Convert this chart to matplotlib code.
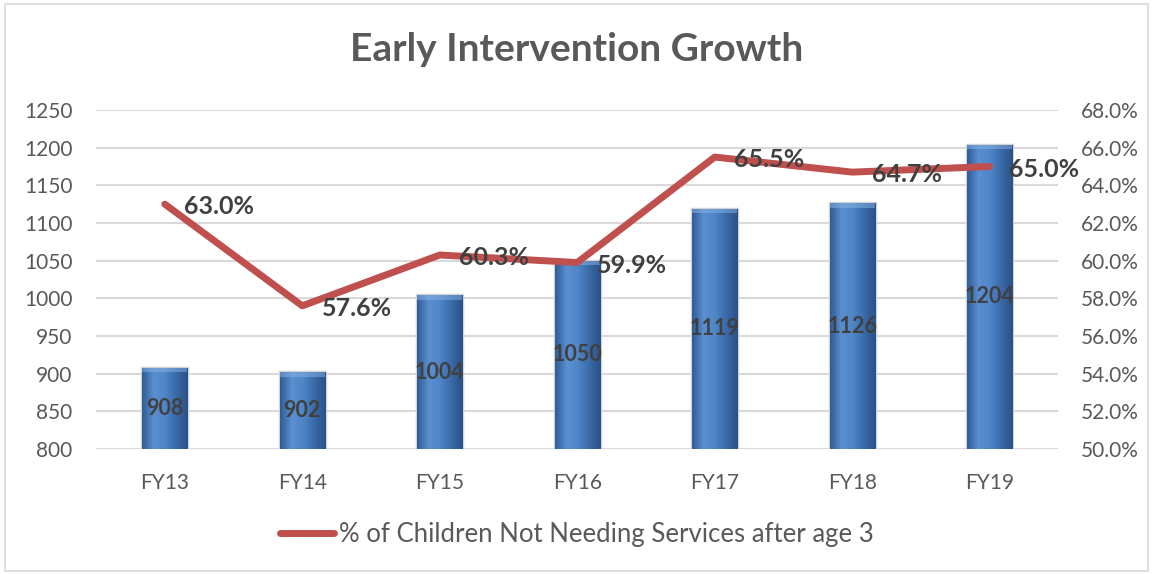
import numpy as np
import matplotlib.pyplot as plt
from matplotlib.patches import Rectangle
from matplotlib.colors import LinearSegmentedColormap

plt.rcParams['font.family'] = ['Lato', 'DejaVu Sans']

years = ["FY13", "FY14", "FY15", "FY16", "FY17", "FY18", "FY19"]
children = [908, 902, 1004, 1050, 1119, 1126, 1204]
pct_not_needing = [63.0, 57.6, 60.3, 59.9, 65.5, 64.7, 65.0]
left_ticks = [800, 850, 900, 950, 1000, 1050, 1100, 1150, 1200, 1250]
right_ticks = [50, 52, 54, 56, 58, 60, 62, 64, 66, 68]

txt = '#595959'
fig = plt.figure(figsize=(11.53, 5.74), dpi=100)
ax = fig.add_axes([0.0833, 0.2178, 0.8347, 0.5906])
x = np.arange(len(years))

bars = ax.bar(x, np.array(children) - 800, bottom=800, width=0.33,
              color='#4a7ebb', edgecolor='#d4d4d4', linewidth=2.5, zorder=2)
# fake the shaded 3D look of the excel bars
blue = LinearSegmentedColormap.from_list('b', ['#2f5d96', '#5b8fd0', '#4f86c8', '#3a6aa8', '#2a5288'])
grad = np.linspace(0, 1, 64).reshape(1, -1)
for b in bars:
    x0, y0 = b.get_x(), b.get_y()
    im = ax.imshow(grad, cmap=blue, aspect='auto', zorder=2.5,
                   extent=[x0, x0 + b.get_width(), y0, y0 + b.get_height()])
    im.set_clip_path(b)
    ax.add_patch(Rectangle((x0, y0 + b.get_height() - 6), b.get_width(), 6,
                           color='#8ab4e6', alpha=0.5, zorder=2.6, lw=0))
for xi, v in zip(x, children):
    ax.text(xi, (800 + v) / 2, str(v), ha='center', va='center',
            fontsize=15.5, fontweight='bold', color='#404040', zorder=4)

ax.set_xlim(-0.5, len(years) - 0.5)
ax.set_ylim(800, 1250)
ax.set_yticks(left_ticks)
ax.set_xticks(x)
ax.set_xticklabels(years)
ax.grid(axis='y', color='#d9d9d9', linewidth=1.5, zorder=0)
ax.set_axisbelow(True)
for s in ax.spines.values():
    s.set_visible(False)
ax.tick_params(length=0, labelsize=15, colors=txt, pad=17)
ax.tick_params(axis='y', pad=17)

ax2 = ax.twinx()
ax2.plot(x, pct_not_needing, color='#c0504d', linewidth=5, zorder=5,
         solid_capstyle='round', label='% of Children Not Needing Services after age 3')
ax2.set_ylim(50, 68)
ax2.set_yticks(right_ticks)
ax2.set_yticklabels([f"{t:.1f}%" for t in right_ticks])
for s in ax2.spines.values():
    s.set_visible(False)
ax2.tick_params(length=0, labelsize=15, colors=txt, pad=16)
for xi, v in zip(x, pct_not_needing):
    ax2.annotate(f"{v:.1f}%", (xi, v), xytext=(14, -2), textcoords='offset points',
                 ha='left', va='center', fontsize=18, fontweight='bold', color='#404040', zorder=6)

fig.text(0.5, 0.913, "Early Intervention Growth", ha='center', va='center',
         fontsize=28, fontweight='bold', color=txt)
fig.legend(loc='center', bbox_to_anchor=(0.5, 0.068), frameon=False, fontsize=18.5,
           labelcolor=txt, handlelength=2.1, handletextpad=0.2)
fig.patches.append(Rectangle((0.004, 0.006), 0.992, 0.987, transform=fig.transFigure,
                             fill=False, edgecolor='#d9d9d9', linewidth=1.2))

fig.savefig("out.png", dpi=100)
